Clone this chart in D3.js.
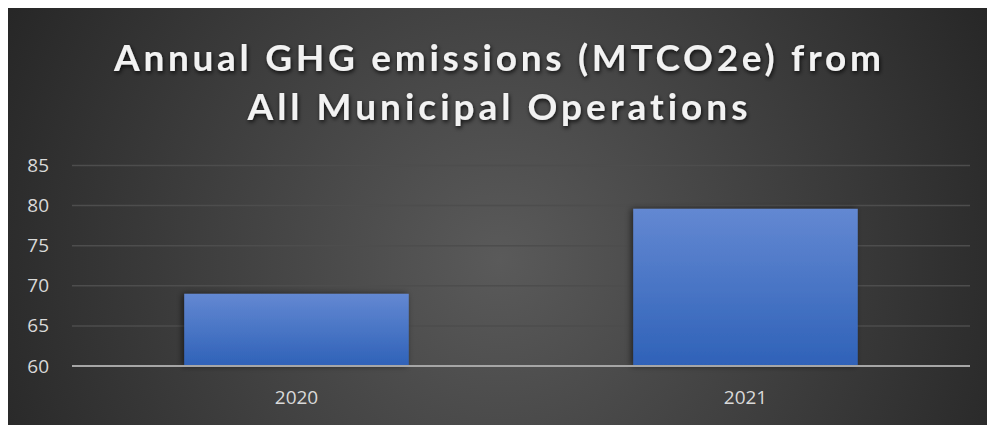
<!DOCTYPE html>
<html><head><meta charset="utf-8">
<script src="https://cdn.jsdelivr.net/npm/d3@7"></script>
<style>html,body{margin:0;padding:0;background:#fff;}svg{display:block;}text{font-variant-ligatures:none;font-feature-settings:"liga" 0;}</style>
</head><body>
<script>
const categories = ["2020", "2021"];
const values = [69.0, 79.6];
const yTicks = [60, 65, 70, 75, 80, 85];
const titleLines = ["Annual GHG emissions (MTCO2e) from", "All Municipal Operations"];

(function () {
const W = 987, H = 425;
const svg = d3.select("body").append("svg").attr("width", W).attr("height", H);
const defs = svg.append("defs");

const bg = defs.append("radialGradient").attr("id", "bg")
  .attr("gradientUnits", "userSpaceOnUse").attr("cx", 500).attr("cy", 260).attr("r", 560);
bg.append("stop").attr("offset", "0").attr("stop-color", "#5a5a5a");
bg.append("stop").attr("offset", "1").attr("stop-color", "#262626");

const bar = defs.append("linearGradient").attr("id", "bar").attr("x1", 0).attr("y1", 0).attr("x2", 0).attr("y2", 1);
bar.append("stop").attr("offset", "0").attr("stop-color", "#6388d2");
bar.append("stop").attr("offset", "1").attr("stop-color", "#2f62b8");

const sh = defs.append("filter").attr("id", "sh").attr("x", "-10%").attr("y", "-10%").attr("width", "120%").attr("height", "120%");
sh.append("feDropShadow").attr("dx", -2).attr("dy", 0).attr("stdDeviation", 3).attr("flood-color", "#000").attr("flood-opacity", 0.55);

const tsh = defs.append("filter").attr("id", "tsh").attr("x", "-10%").attr("y", "-30%").attr("width", "120%").attr("height", "160%");
tsh.append("feDropShadow").attr("dx", 1).attr("dy", 2).attr("stdDeviation", 2).attr("flood-color", "#000").attr("flood-opacity", 0.8);

svg.append("rect").attr("x", 8).attr("y", 8).attr("width", W - 8).attr("height", H - 8).attr("fill", "url(#bg)");

const pLeft = 72, pRight = 970, pTop = 165.5, pBottom = 366;
const x = d3.scaleBand().domain(categories).range([pLeft, pRight]).paddingInner(0.5).paddingOuter(0.25);
const y = d3.scaleLinear().domain([60, 85]).range([pBottom, pTop]);

svg.append("g").selectAll("line").data(yTicks.filter(d => d !== 60)).join("line")
  .attr("x1", pLeft).attr("x2", pRight).attr("y1", d => y(d)).attr("y2", d => y(d))
  .attr("stroke", "#4d4d4d").attr("stroke-width", 1.5);

svg.append("g").selectAll("rect").data(categories).join("rect")
  .attr("x", d => x(d)).attr("width", x.bandwidth())
  .attr("y", (d, i) => y(values[i])).attr("height", (d, i) => y(60) - y(values[i]))
  .attr("fill", "url(#bar)").attr("filter", "url(#sh)");

svg.append("line").attr("x1", pLeft).attr("x2", pRight).attr("y1", pBottom).attr("y2", pBottom)
  .attr("stroke", "#a6a6a6").attr("stroke-width", 2);

const yAxis = d3.axisLeft(y).tickValues(yTicks).tickSize(0).tickPadding(0);
const gy = svg.append("g").attr("transform", "translate(49,0)").call(yAxis);
gy.select(".domain").remove();
gy.selectAll("text").attr("fill", "#d9d9d9").attr("font-family", "'Open Sans', sans-serif").attr("font-size", 19);

const xAxis = d3.axisBottom(x).tickSize(0).tickPadding(0);
const gx = svg.append("g").attr("transform", `translate(0,${pBottom})`).call(xAxis);
gx.select(".domain").remove();
gx.selectAll("text").attr("fill", "#d9d9d9").attr("font-family", "'Open Sans', sans-serif").attr("font-size", 19)
  .attr("dy", null).attr("y", 38);

const tg = svg.append("g").attr("filter", "url(#tsh)");
const titleWidths = [767, 500];
tg.selectAll("text").data(titleLines).join("text")
  .attr("x", W / 2 + 4).attr("y", (d, i) => 71 + i * 49)
  .attr("text-anchor", "middle")
  .attr("font-family", "Lato, sans-serif").attr("font-weight", "bold").attr("font-size", 37)
  .attr("fill", "#f2f2f2")
  .style("font-variant-ligatures", "none")
  .attr("textLength", (d, i) => titleWidths[i]).attr("lengthAdjust", "spacing")
  .text(d => d);
})();
</script>
</body></html>
